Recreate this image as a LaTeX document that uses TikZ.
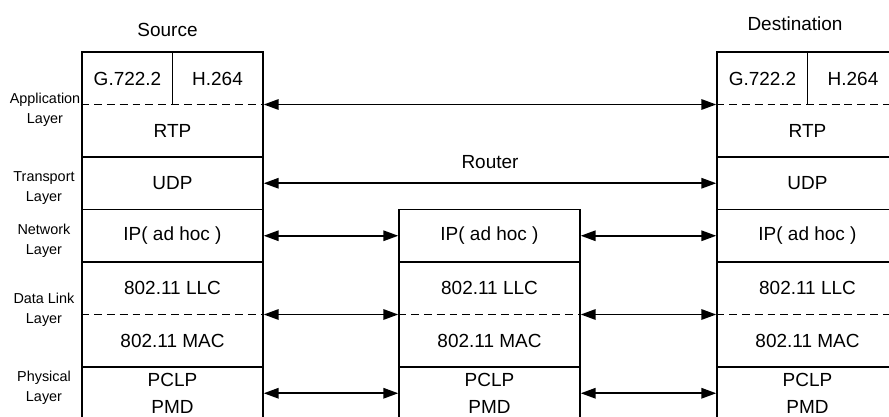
\documentclass[tikz,border=0pt]{standalone}
\usepackage{fontspec}
\setmainfont{Liberation Sans}
\usepackage{tikz}
\usetikzlibrary{
arrows.meta,
positioning
}

\begin{document}
\begin{tikzpicture}[
  x=0.02cm, y=-0.02cm,
  >={Triangle[length=8.5pt, width=6pt]},
  layer/.style={draw, line width=0.9pt, minimum width=3.62cm, minimum height=1.05cm,
    inner sep=0pt, align=center, font=\fontsize{10.8}{15.3}\selectfont},
  block/.style={layer, minimum height=2.1cm},
  proto/.style={inner sep=0pt, font=\fontsize{10.8}{15.3}\selectfont},
  side/.style={inner sep=0pt, align=center, font=\fontsize{8.2}{11.3}\selectfont},
  sublayer/.style={line width=0.9pt, dash pattern=on 4.5pt off 2.8pt},
  peer/.style={<->, line width=0.9pt}
]

% Frame (the destination stack runs off the right edge)
\clip (0,0) rectangle (889,416);

% Layer names
\node[side] (lapp) at (45,110) {Application\\Layer};
\node[side] (ltrans) at (44,188) {Transport\\Layer};
\node[side] (lnet) at (44,241) {Network\\Layer};
\node[side] (llink) at (44,310) {Data Link\\Layer};
\node[side] (lphy) at (44,388) {Physical\\Layer};

% Source stack
\node[proto] (srctitle) at (167.5,30) {Source};
\node[block] (srcapp) at (172.5,104.5) {};
\draw[sublayer] (srcapp.west) -- (srcapp.east);
\draw[line width=0.9pt] (srcapp.north) -- (srcapp.center);
\node[proto] (srcg) at (127.5,79) {G.722.2};
\node[proto] (srch) at (217.5,79) {H.264};
\node[proto] (srcrtp) at (172.5,131) {RTP};
\node[layer] (srcudp) at (172.5,183.25) {UDP};
\node[layer] (srcip) at (172.5,235.75) {IP( ad hoc )};
\node[block] (srclink) at (172.5,314.5) {};
\draw[sublayer] (srclink.west) -- (srclink.east);
\node[proto] (srcllc) at (172.5,288.25) {802.11 LLC};
\node[proto] (srcmac) at (172.5,340.75) {802.11 MAC};
\node[layer] (srcphy) at (172.5,393.25) {PCLP\\PMD};

% Router
\node[proto] (rttitle) at (490,162) {Router};
\node[layer] (rtip) at (489.5,235.75) {IP( ad hoc )};
\node[block] (rtlink) at (489.5,314.5) {};
\draw[sublayer] (rtlink.west) -- (rtlink.east);
\node[proto] (rtllc) at (489.5,288.25) {802.11 LLC};
\node[proto] (rtmac) at (489.5,340.75) {802.11 MAC};
\node[layer] (rtphy) at (489.5,393.25) {PCLP\\PMD};

% Destination stack
\node[proto] (dsttitle) at (795,24) {Destination};
\node[block] (dstapp) at (807.5,104.5) {};
\draw[sublayer] (dstapp.west) -- (dstapp.east);
\draw[line width=0.9pt] (dstapp.north) -- (dstapp.center);
\node[proto] (dstg) at (762.5,79) {G.722.2};
\node[proto] (dsth) at (853,79) {H.264};
\node[proto] (dstrtp) at (807.5,131) {RTP};
\node[layer] (dstudp) at (807.5,183.25) {UDP};
\node[layer] (dstip) at (807.5,235.75) {IP( ad hoc )};
\node[block] (dstlink) at (807.5,314.5) {};
\draw[sublayer] (dstlink.west) -- (dstlink.east);
\node[proto] (dstllc) at (807.5,288.25) {802.11 LLC};
\node[proto] (dstmac) at (807.5,340.75) {802.11 MAC};
\node[layer] (dstphy) at (807.5,393.25) {PCLP\\PMD};

% Peer links
\draw[peer] (srcapp.east) -- (dstapp.west);
\draw[peer] (srcudp.east) -- (dstudp.west);
\draw[peer] (srcip.east) -- (rtip.west);
\draw[peer] (rtip.east) -- (dstip.west);
\draw[peer] (srclink.east) -- (rtlink.west);
\draw[peer] (rtlink.east) -- (dstlink.west);
\draw[peer] (srcphy.east) -- (rtphy.west);
\draw[peer] (rtphy.east) -- (dstphy.west);

\end{tikzpicture}
\end{document}
